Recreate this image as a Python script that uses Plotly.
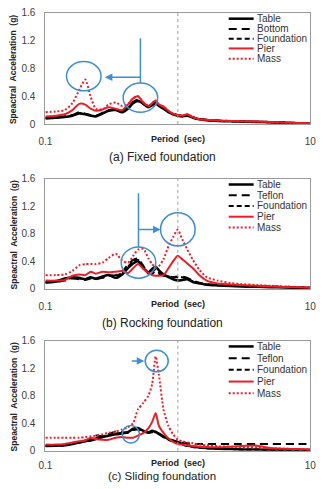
import plotly.graph_objects as go

# ---------------- data ----------------
period = [0.10, 0.12, 0.14, 0.16, 0.18, 0.20, 0.22, 0.24, 0.27, 0.30, 0.34, 0.38,
          0.42, 0.46, 0.50, 0.55, 0.60, 0.64, 0.68, 0.72, 0.78, 0.85, 0.92, 1.00,
          1.08, 1.18, 1.30, 1.45, 1.65, 2.0, 2.5, 3.0, 4.0, 5.0, 6.5, 8.0, 10.0]

# (a) Fixed foundation
fixed_table = [0.08, 0.09, 0.10, 0.12, 0.15, 0.14, 0.12, 0.11, 0.15, 0.19, 0.20, 0.17,
               0.22, 0.30, 0.33, 0.29, 0.24, 0.27, 0.30, 0.26, 0.22, 0.17, 0.14, 0.12,
               0.11, 0.12, 0.09, 0.07, 0.055, 0.045, 0.04, 0.035, 0.03, 0.025, 0.02, 0.012, 0.008]
fixed_bottom = [0.09, 0.10, 0.11, 0.13, 0.17, 0.15, 0.13, 0.12, 0.16, 0.20, 0.21, 0.18,
                0.24, 0.32, 0.35, 0.30, 0.25, 0.28, 0.31, 0.27, 0.23, 0.18, 0.15, 0.13,
                0.12, 0.13, 0.10, 0.075, 0.06, 0.05, 0.042, 0.037, 0.032, 0.027, 0.02, 0.014, 0.01]
fixed_foundation = [0.085, 0.095, 0.105, 0.125, 0.16, 0.145, 0.125, 0.115, 0.155, 0.195, 0.205, 0.175,
                    0.23, 0.31, 0.34, 0.29, 0.245, 0.275, 0.305, 0.265, 0.225, 0.175, 0.145, 0.125,
                    0.115, 0.125, 0.095, 0.072, 0.058, 0.048, 0.041, 0.036, 0.031, 0.026, 0.02, 0.013, 0.009]
fixed_pier = [0.11, 0.12, 0.14, 0.20, 0.29, 0.28, 0.22, 0.19, 0.21, 0.24, 0.22, 0.20,
              0.28, 0.37, 0.40, 0.31, 0.26, 0.30, 0.34, 0.28, 0.25, 0.19, 0.15, 0.13,
              0.12, 0.14, 0.10, 0.07, 0.06, 0.05, 0.045, 0.04, 0.035, 0.03, 0.02, 0.015, 0.01]
fixed_mass = [0.17, 0.18, 0.20, 0.30, 0.49, 0.64, 0.39, 0.22, 0.21, 0.28, 0.31, 0.26,
              0.29, 0.37, 0.40, 0.31, 0.26, 0.30, 0.34, 0.28, 0.25, 0.19, 0.15, 0.13,
              0.12, 0.14, 0.10, 0.07, 0.06, 0.05, 0.045, 0.04, 0.035, 0.03, 0.02, 0.015, 0.01]

# (b) Rocking foundation
rock_table = [0.10, 0.11, 0.15, 0.17, 0.16, 0.14, 0.17, 0.15, 0.18, 0.20, 0.16, 0.21,
              0.30, 0.37, 0.40, 0.30, 0.24, 0.29, 0.32, 0.27, 0.21, 0.17, 0.14, 0.12,
              0.13, 0.14, 0.10, 0.08, 0.06, 0.05, 0.04, 0.035, 0.03, 0.025, 0.02, 0.015, 0.01]
rock_teflon = [0.09, 0.10, 0.12, 0.15, 0.14, 0.13, 0.15, 0.14, 0.16, 0.19, 0.20, 0.25,
               0.35, 0.42, 0.44, 0.33, 0.22, 0.22, 0.26, 0.22, 0.19, 0.18, 0.17, 0.17,
               0.18, 0.16, 0.12, 0.09, 0.07, 0.06, 0.05, 0.045, 0.04, 0.035, 0.03, 0.025, 0.02]
rock_foundation = [0.095, 0.105, 0.13, 0.16, 0.15, 0.14, 0.16, 0.145, 0.17, 0.195, 0.19, 0.23,
                   0.32, 0.40, 0.42, 0.31, 0.23, 0.25, 0.28, 0.24, 0.20, 0.18, 0.17, 0.18,
                   0.17, 0.15, 0.11, 0.085, 0.065, 0.055, 0.045, 0.04, 0.035, 0.03, 0.028, 0.025, 0.02]
rock_pier = [0.12, 0.12, 0.13, 0.19, 0.21, 0.20, 0.25, 0.22, 0.25, 0.24, 0.25, 0.26,
             0.23, 0.30, 0.36, 0.29, 0.23, 0.20, 0.19, 0.19, 0.20, 0.30, 0.40, 0.48,
             0.43, 0.37, 0.30, 0.20, 0.12, 0.08, 0.065, 0.055, 0.045, 0.035, 0.028, 0.022, 0.015]
rock_mass = [0.20, 0.20, 0.21, 0.26, 0.34, 0.36, 0.36, 0.36, 0.38, 0.45, 0.51, 0.41,
             0.38, 0.48, 0.57, 0.58, 0.44, 0.36, 0.31, 0.33, 0.43, 0.62, 0.75, 0.86,
             0.72, 0.57, 0.42, 0.28, 0.17, 0.12, 0.085, 0.07, 0.055, 0.045, 0.035, 0.028, 0.02]

# (c) Sliding foundation
slide_table = [0.07, 0.075, 0.08, 0.10, 0.12, 0.14, 0.15, 0.17, 0.20, 0.22, 0.24, 0.25,
               0.27, 0.32, 0.33, 0.29, 0.27, 0.29, 0.27, 0.25, 0.21, 0.17, 0.15, 0.13,
               0.10, 0.08, 0.06, 0.05, 0.04, 0.03, 0.025, 0.02, 0.018, 0.015, 0.012, 0.01, 0.01]
slide_teflon = [0.07, 0.075, 0.08, 0.10, 0.13, 0.15, 0.17, 0.22, 0.21, 0.24, 0.28, 0.27,
                0.26, 0.30, 0.31, 0.28, 0.26, 0.27, 0.26, 0.24, 0.20, 0.16, 0.14, 0.13,
                0.12, 0.11, 0.10, 0.10, 0.10, 0.10, 0.10, 0.10, 0.10, 0.10, 0.10, 0.10, 0.10]
slide_foundation = [0.075, 0.08, 0.085, 0.105, 0.12, 0.14, 0.16, 0.18, 0.21, 0.23, 0.25, 0.26,
                    0.27, 0.31, 0.32, 0.29, 0.26, 0.28, 0.28, 0.24, 0.20, 0.16, 0.14, 0.12,
                    0.09, 0.07, 0.055, 0.045, 0.035, 0.03, 0.025, 0.02, 0.018, 0.015, 0.012, 0.01, 0.01]
slide_pier = [0.09, 0.09, 0.10, 0.12, 0.14, 0.15, 0.19, 0.17, 0.16, 0.16, 0.19, 0.20,
              0.19, 0.19, 0.22, 0.26, 0.33, 0.42, 0.55, 0.36, 0.26, 0.18, 0.13, 0.10,
              0.09, 0.08, 0.07, 0.06, 0.055, 0.05, 0.06, 0.07, 0.075, 0.04, 0.03, 0.025, 0.02]
slide_mass = [0.19, 0.19, 0.19, 0.19, 0.19, 0.20, 0.21, 0.22, 0.24, 0.26, 0.28, 0.31,
              0.34, 0.40, 0.60, 0.70, 0.80, 0.97, 1.37, 1.10, 0.60, 0.36, 0.24, 0.16,
              0.14, 0.12, 0.11, 0.09, 0.08, 0.065, 0.06, 0.055, 0.05, 0.035, 0.03, 0.025, 0.02]

y_ticks = [0, 0.4, 0.8, 1.2, 1.6]
y_tick_text = ["0", "0.4", "0.8", "1.2", "1.6"]
x_ticks = [0.1, 10]
x_tick_text = ["0.1", "10"]

captions = ["(a) Fixed foundation", "(b) Rocking foundation", "(c) Sliding foundation"]
panel_series = [
    [("Table", fixed_table), ("Bottom", fixed_bottom), ("Foundation", fixed_foundation),
     ("Pier", fixed_pier), ("Mass", fixed_mass)],
    [("Table", rock_table), ("Teflon", rock_teflon), ("Foundation", rock_foundation),
     ("Pier", rock_pier), ("Mass", rock_mass)],
    [("Table", slide_table), ("Teflon", slide_teflon), ("Foundation", slide_foundation),
     ("Pier", slide_pier), ("Mass", slide_mass)],
]

# ---------------- styling / layout ----------------
W, H = 323, 489
RED = "#ee1c25"
BLUE = "#3d8fd1"
FONT = "Liberation Sans, Arial, sans-serif"
styles = [  # color, dash, width
    ("#000000", "solid", 2.5),
    ("#000000", "8px,5px", 2),
    ("#000000", "5px,3px", 2),
    (RED, "solid", 2),
    (RED, "2px,2px", 2),
]

def fx(px):
    return px / W

def fy(py):
    return 1 - py / H

# plot area pixel bounds (left, right, top, bottom) per panel
plot_px = [(40, 316, 7, 121), (40, 316, 177, 290), (40, 316, 343, 456)]
caption_y = [155, 325, 482]
title_off = [15, 15, 12]
tick_standoff = [8, 8, 5]
legend_rows = [[13, 23.5, 33.5, 43.5, 54], [183, 194, 205, 216, 227], [349, 361, 373, 385, 397]]

fig = go.Figure()
shapes = []
annotations = []
layout_axes = {}

for i in range(3):
    sfx = "" if i == 0 else str(i + 1)
    xa, ya = "x" + sfx, "y" + sfx
    l, r, t, b = plot_px[i]
    for j, (name, vals) in enumerate(panel_series[i]):
        c, d, w = styles[j]
        fig.add_trace(go.Scatter(x=period, y=vals, mode="lines", name=name,
                                 line=dict(color=c, dash=d, width=w, shape="spline", smoothing=0.6),
                                 xaxis=xa, yaxis=ya, showlegend=False))
    layout_axes["xaxis" + sfx] = dict(
        type="log", range=[-1, 1], domain=[fx(l), fx(r)], anchor=ya,
        tickvals=x_ticks, ticktext=x_tick_text, ticks="", showgrid=False, zeroline=False,
        showline=True, linecolor="#9a9a9a", linewidth=1, mirror=True,
        tickfont=dict(family=FONT, size=10, color="#404040"), ticklabelstandoff=tick_standoff[i])
    layout_axes["yaxis" + sfx] = dict(
        range=[0, 1.6], domain=[fy(b), fy(t)], anchor=xa,
        tickvals=y_ticks, ticktext=y_tick_text, ticks="", showgrid=False, zeroline=False,
        showline=True, linecolor="#9a9a9a", linewidth=1, mirror=True,
        tickfont=dict(family=FONT, size=10, color="#404040"), ticklabelstandoff=7)
    # vertical dotted line at T = 1 s
    shapes.append(dict(type="line", xref=xa, yref=ya + " domain", x0=1, x1=1, y0=0, y1=1,
                       line=dict(color="#a0a0a0", width=1, dash="dot")))
    # axis titles
    annotations.append(dict(text="<b>Period  (sec)</b>", xref="paper", yref="paper",
                            x=fx(178), y=fy(b + title_off[i]), xanchor="center", yanchor="middle",
                            showarrow=False,
                            font=dict(family=FONT, size=9, color="#222222")))
    annotations.append(dict(text="<b>Speactral  Acceleration  (g)</b>", xref="paper", yref="paper",
                            x=fx(7), y=fy((t + b) / 2 + 1), xanchor="center", yanchor="middle",
                            textangle=-90, showarrow=False,
                            font=dict(family=FONT, size=8.5, color="#222222")))
    annotations.append(dict(text=captions[i], xref="paper", yref="paper",
                            x=fx(162), y=fy(caption_y[i]), xanchor="center", yanchor="middle",
                            showarrow=False,
                            font=dict(family=FONT, size=12 if i < 2 else 11.5, color="#222222")))
    # manual legend
    for j, (name, _) in enumerate(panel_series[i]):
        c, d, w = styles[j]
        ry = legend_rows[i][j]
        shapes.append(dict(type="line", xref="paper", yref="paper",
                           x0=fx(231), x1=fx(257), y0=fy(ry), y1=fy(ry),
                           line=dict(color=c, dash=d, width=w)))
        annotations.append(dict(text=name, xref="paper", yref="paper", x=fx(258), y=fy(ry),
                                xanchor="left", yanchor="middle", showarrow=False,
                                font=dict(family=FONT, size=10, color="#333333")))

# blue highlight circles / arrows
def circle(cx, cy, rx, ry):
    return dict(type="circle", xref="paper", yref="paper",
                x0=fx(cx - rx), x1=fx(cx + rx), y0=fy(cy + ry), y1=fy(cy - ry),
                line=dict(color=BLUE, width=1.5))

def vline(x, y0, y1):
    return dict(type="line", xref="paper", yref="paper", x0=fx(x), x1=fx(x),
                y0=fy(y0), y1=fy(y1), line=dict(color=BLUE, width=1.5))

def arrow(x_head, x_tail, y):
    return dict(text="", xref="paper", yref="paper", x=fx(x_head), y=fy(y),
                ax=x_tail - x_head, ay=0, showarrow=True, arrowhead=2, arrowsize=1,
                arrowwidth=1.5, arrowcolor=BLUE)

shapes += [circle(80, 72, 18, 15), circle(139, 94, 18, 15), vline(139, 33, 79),
           circle(137, 263, 18, 16), circle(178, 229, 18, 17), vline(137, 192, 247),
           circle(129, 439, 9, 9), circle(156, 364, 12, 11)]
annotations += [arrow(102, 139, 73), arrow(160, 137, 229), arrow(143, 129, 364)]

fig.update_layout(width=W, height=H, margin=dict(l=0, r=0, t=0, b=0),
                  paper_bgcolor="white", plot_bgcolor="white", showlegend=False,
                  shapes=shapes, annotations=annotations, **layout_axes)

fig.write_html("out.html")
